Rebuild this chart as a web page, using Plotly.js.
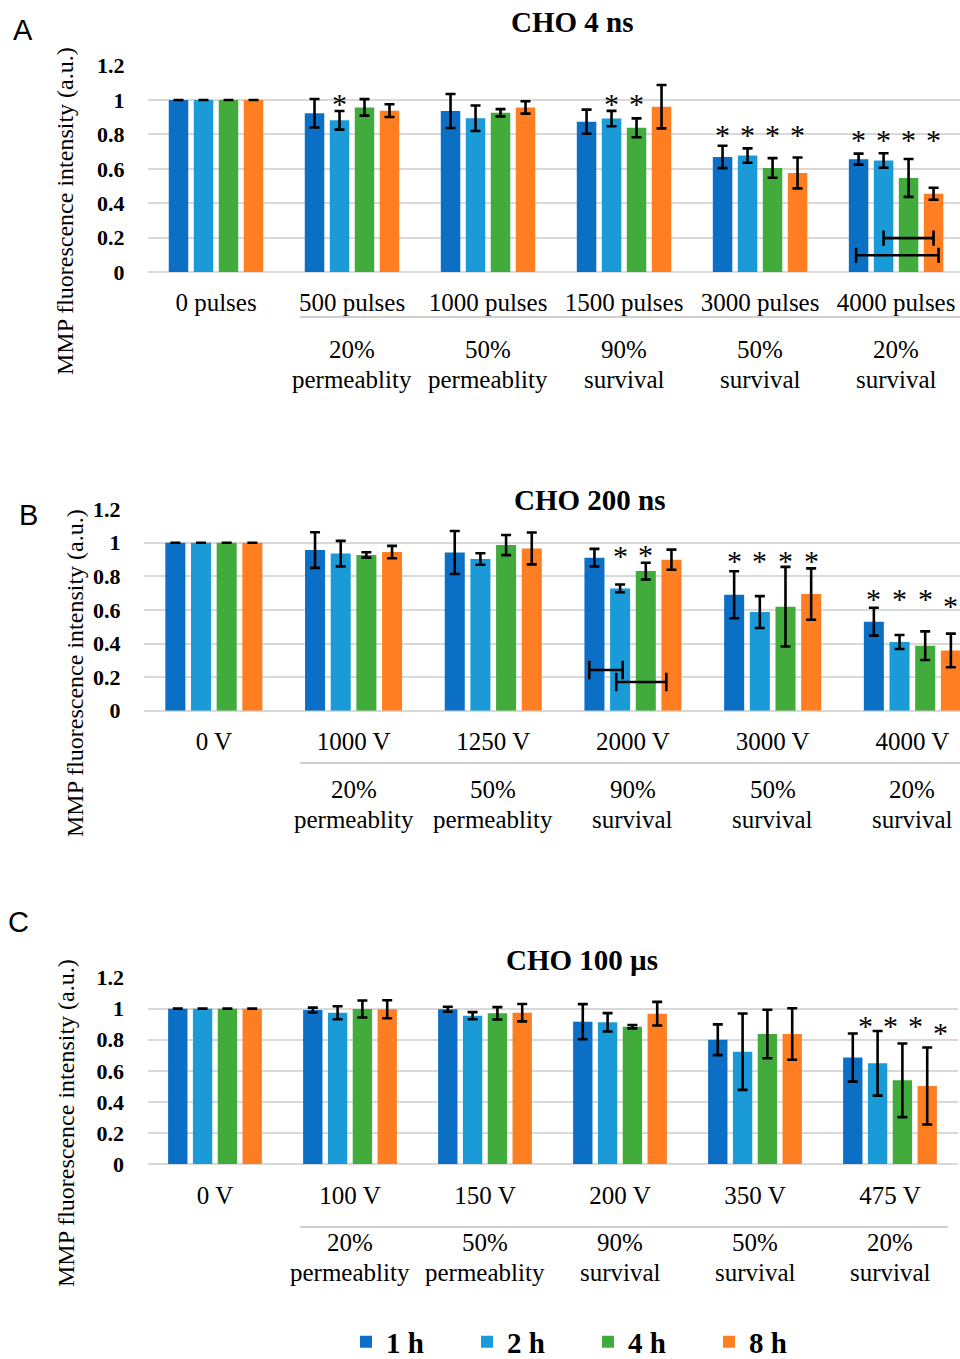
<!DOCTYPE html>
<html><head><meta charset="utf-8">
<script src="https://cdn.plot.ly/plotly-3.0.1.min.js"></script>
<style>body{margin:0;background:#fff}#chart{width:960px;height:1359px}</style>
</head><body><div id="chart"></div>
<script>
// ---------- data ----------
const seriesNames = ['1 h', '2 h', '4 h', '8 h'];
const seriesColors = ['#0B6FC5', '#1A9BD7', '#41AB3C', '#FF7E21'];

const titleA = 'CHO 4 ns', titleB = 'CHO 200 ns', titleC = 'CHO 100 µs';
const yTitle = 'MMP fluorescence intensity (a.u.)';

const catsA = ['0 pulses', '500 pulses', '1000 pulses', '1500 pulses', '3000 pulses', '4000 pulses'];
const catsB = ['0 V', '1000 V', '1250 V', '2000 V', '3000 V', '4000 V'];
const catsC = ['0 V', '100 V', '150 V', '200 V', '350 V', '475 V'];

const subTop = ['', '20%', '50%', '90%', '50%', '20%'];
const subBottom = ['', 'permeablity', 'permeablity', 'survival', 'survival', 'survival'];

const valsA = [
  [1, 0.923, 0.936, 0.874, 0.669, 0.656],
  [1, 0.882, 0.894, 0.892, 0.677, 0.648],
  [1, 0.957, 0.926, 0.838, 0.605, 0.547],
  [1, 0.938, 0.957, 0.961, 0.576, 0.455]];
const errA = [
  [0, 0.083, 0.099, 0.070, 0.065, 0.032],
  [0, 0.054, 0.074, 0.045, 0.042, 0.042],
  [0, 0.048, 0.021, 0.055, 0.057, 0.110],
  [0, 0.037, 0.036, 0.126, 0.090, 0.035]];

const valsB = [
  [1, 0.956, 0.942, 0.911, 0.690, 0.530],
  [1, 0.935, 0.903, 0.728, 0.587, 0.409],
  [1, 0.927, 0.986, 0.831, 0.619, 0.387],
  [1, 0.944, 0.966, 0.899, 0.694, 0.359]];
const errB = [
  [0, 0.106, 0.128, 0.052, 0.140, 0.083],
  [0, 0.076, 0.034, 0.023, 0.095, 0.042],
  [0, 0.016, 0.060, 0.050, 0.237, 0.085],
  [0, 0.037, 0.095, 0.060, 0.153, 0.100]];

const valsC = [
  [1, 0.991, 0.996, 0.916, 0.800, 0.685],
  [1, 0.974, 0.955, 0.912, 0.723, 0.648],
  [1, 0.998, 0.970, 0.884, 0.837, 0.539],
  [1, 0.996, 0.974, 0.968, 0.837, 0.502]];
const errC = [
  [0, 0.016, 0.016, 0.113, 0.099, 0.155],
  [0, 0.042, 0.023, 0.059, 0.246, 0.208],
  [0, 0.055, 0.040, 0.011, 0.156, 0.237],
  [0, 0.058, 0.056, 0.076, 0.166, 0.248]];

// significance stars: [group index, series index, level]
const starsA = [[1,1,0.983],[3,1,0.986],[3,2,0.986],[4,0,0.808],[4,1,0.808],[4,2,0.808],[4,3,0.808],[5,0,0.779],[5,1,0.779],[5,2,0.779],[5,3,0.779]];
const starsB = [[3,1,0.927],[3,2,0.933],[4,0,0.903],[4,1,0.903],[4,2,0.903],[4,3,0.903],[5,0,0.675],[5,1,0.675],[5,2,0.675],[5,3,0.635]];
const starsC = [[5,0,0.895],[5,1,0.895],[5,2,0.895],[5,3,0.852]];

// comparison brackets: [group index, from series, to series, level]
const bracketsA = [[5, 1, 3, 0.197], [5, -0.1, 3.2, 0.097]];
const bracketsB = [[3, -0.2, 1.1, 0.242], [3, 0.85, 2.8, 0.171]];
const bracketsC = [];

// ---------- layout helpers ----------
const W = 960, H = 1359;
const px = v => v / W;
const py = v => 1 - v / H;
const SERIF = 'Liberation Serif, Times New Roman, serif';
const SANS = 'Liberation Sans, Arial, sans-serif';
const BARGAP = 0.265;
const slot = (1 - BARGAP) / 4;
const barX = (g, s) => g + (s - 1.5) * slot;

const panels = [
  {cats: catsA, vals: valsA, errs: errA, stars: starsA, brackets: bracketsA, title: titleA, letter: 'A',
   xdom: [148/W, 1], xr: [-0.5, 5.47], y0: 272, y12: 65.6, ticklen: 8,
   titlePos: [572, 22], letterPos: [23, 30], ytPos: [65, 211], sub: [349, 380], sep: [300, 960, 317], starShift: 0, bh: 0.044},
  {cats: catsB, vals: valsB, errs: errB, stars: starsB, brackets: bracketsB, title: titleB, letter: 'B',
   xdom: [144/W, 1], xr: [-0.5, 5.341], y0: 710.7, y12: 509.1, ticklen: 8,
   titlePos: [589, 500], letterPos: [28, 515], ytPos: [75, 673], sub: [789, 819], sep: [300, 960, 763], starShift: 0, bh: 0.055},
  {cats: catsC, vals: valsC, errs: errC, stars: starsC, brackets: bracketsC, title: titleC, letter: 'C',
   xdom: [147.5/W, 957.5/W], xr: [-0.5, 5.5], y0: 1164, y12: 977.6, ticklen: 9,
   titlePos: [582, 960], letterPos: [18, 922], ytPos: [66, 1123], sub: [1242, 1272], sep: [300, 948, 1227], starShift: 13, bh: 0.05}
];

const traces = [];
const annotations = [];
const shapes = [];
const layout = {
  width: W, height: H, margin: {l: 0, r: 0, t: 0, b: 0, autoexpand: false},
  paper_bgcolor: '#fff', plot_bgcolor: 'rgba(0,0,0,0)',
  barmode: 'group', bargap: BARGAP, bargroupgap: 0.22,
  showlegend: true,
  legend: {orientation: 'h', x: 346/W, xanchor: 'left', y: py(1342), yanchor: 'middle',
           font: {family: SERIF, size: 29, color: '#000', weight: 'bold'},
           entrywidth: 76, entrywidthmode: 'pixels', traceorder: 'normal', bgcolor: 'rgba(0,0,0,0)'},
  annotations: annotations, shapes: shapes
};

panels.forEach((p, k) => {
  const sfx = k === 0 ? '' : String(k + 1);
  const xa = 'x' + sfx, ya = 'y' + sfx;
  p.vals.forEach((v, i) => {
    traces.push({
      type: 'bar', name: seriesNames[i], x: p.cats, y: v,
      xaxis: xa, yaxis: ya, legendgroup: seriesNames[i], showlegend: k === 0,
      marker: {color: seriesColors[i], line: {width: 0}},
      error_y: {type: 'data', array: p.errs[i], visible: true, color: '#000', thickness: 2.6, width: 5},
      hoverinfo: 'skip'
    });
  });
  layout['xaxis' + sfx] = {
    domain: p.xdom, range: p.xr, anchor: ya, type: 'category', automargin: false, tickangle: 0,
    showgrid: false, zeroline: false, showline: false,
    ticks: 'outside', ticklen: p.ticklen, tickcolor: 'rgba(0,0,0,0)',
    tickfont: {family: SERIF, size: 25, color: '#000'}, fixedrange: true
  };
  layout['yaxis' + sfx] = {
    domain: [py(p.y0), py(p.y12)], range: [0, 1.2], anchor: xa, automargin: false,
    tick0: 0, dtick: 0.2, showgrid: true, gridcolor: '#D9D9D9', gridwidth: 2,
    zeroline: true, zerolinecolor: '#D9D9D9', zerolinewidth: 2, showline: false,
    ticks: 'outside', ticklen: 18, tickcolor: 'rgba(0,0,0,0)',
    tickfont: {family: SERIF, size: 22, color: '#000', weight: 'bold'}, fixedrange: true
  };
  annotations.push({text: p.title, xref: 'paper', yref: 'paper', x: px(p.titlePos[0]), y: py(p.titlePos[1]),
    xanchor: 'center', yanchor: 'middle', showarrow: false, font: {family: SERIF, size: 29, color: '#000', weight: 'bold'}});
  annotations.push({text: p.letter, xref: 'paper', yref: 'paper', x: px(p.letterPos[0]), y: py(p.letterPos[1]),
    xanchor: 'center', yanchor: 'middle', showarrow: false, font: {family: SANS, size: 29, color: '#000'}});
  annotations.push({text: yTitle, xref: 'paper', yref: 'paper', x: px(p.ytPos[0]), y: py(p.ytPos[1]),
    xanchor: 'center', yanchor: 'middle', textangle: -90, showarrow: false, font: {family: SERIF, size: 24, color: '#000'}});
  p.cats.forEach((c, g) => {
    if (!subTop[g]) return;
    annotations.push({text: subTop[g], xref: xa, yref: 'paper', x: g, y: py(p.sub[0]), xanchor: 'center', yanchor: 'middle',
      showarrow: false, font: {family: SERIF, size: 25, color: '#000'}});
    annotations.push({text: subBottom[g], xref: xa, yref: 'paper', x: g, y: py(p.sub[1]), xanchor: 'center', yanchor: 'middle',
      showarrow: false, font: {family: SERIF, size: 25, color: '#000'}});
  });
  shapes.push({type: 'line', xref: 'paper', yref: 'paper', x0: px(p.sep[0]), x1: px(p.sep[1]), y0: py(p.sep[2]), y1: py(p.sep[2]),
    line: {color: '#BFBFBF', width: 1.5}});
  p.stars.forEach(([g, s, lv]) => {
    annotations.push({text: '*', xref: xa, yref: ya, x: barX(g, s), y: lv, xanchor: 'center', yanchor: 'middle',
      xshift: p.starShift, yshift: -1, showarrow: false, font: {family: SERIF, size: 30, color: '#000'}});
  });
  p.brackets.forEach(([g, s0, s1, lv]) => {
    const x0 = barX(g, s0), x1 = barX(g, s1);
    const ln = {color: '#000', width: 2.6};
    shapes.push({type: 'line', xref: xa, yref: ya, x0: x0, x1: x1, y0: lv, y1: lv, line: ln});
    shapes.push({type: 'line', xref: xa, yref: ya, x0: x0, x1: x0, y0: lv - p.bh, y1: lv + p.bh, line: ln});
    shapes.push({type: 'line', xref: xa, yref: ya, x0: x1, x1: x1, y0: lv - p.bh, y1: lv + p.bh, line: ln});
  });
});

Plotly.newPlot('chart', traces, layout, {staticPlot: true, displayModeBar: false});
</script>
</body></html>
